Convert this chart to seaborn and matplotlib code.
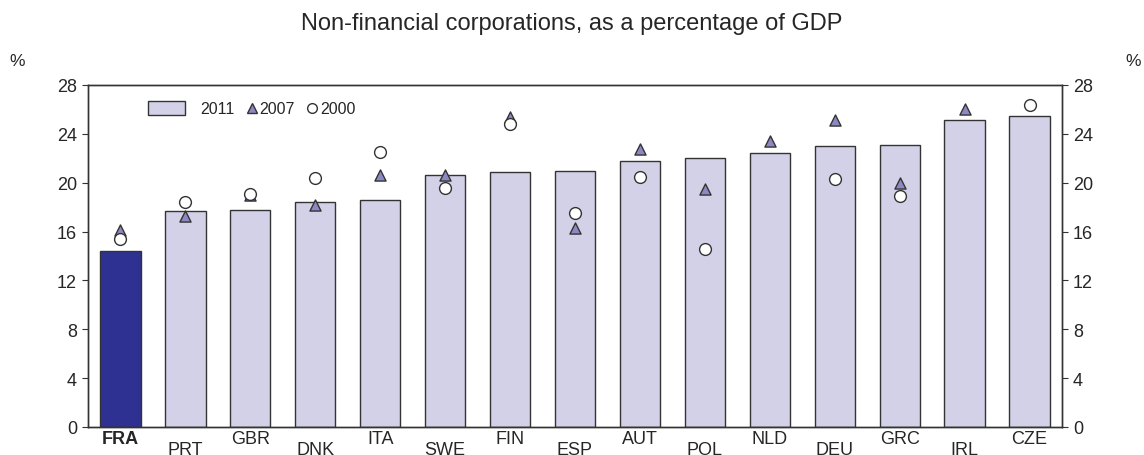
import matplotlib
matplotlib.use("Agg")
import matplotlib.pyplot as plt
import seaborn as sns
from matplotlib.patches import Patch, Rectangle
from matplotlib.lines import Line2D
from matplotlib.legend_handler import HandlerPatch

countries = ["FRA", "PRT", "GBR", "DNK", "ITA", "SWE", "FIN", "ESP",
             "AUT", "POL", "NLD", "DEU", "GRC", "IRL", "CZE"]
v2011 = [14.4, 17.7, 17.8, 18.4, 18.6, 20.6, 20.9, 21.0,
         21.8, 22.0, 22.4, 23.0, 23.1, 25.1, 25.5]
v2007 = [16.1, 17.3, 19.0, 18.2, 20.6, 20.6, 25.4, 16.3,
         22.8, 19.5, 23.4, 25.1, 20.0, 26.0, None]
v2000 = [15.4, 18.4, 19.1, 20.4, 22.5, 19.6, 24.8, 17.5,
         20.5, 14.6, None, 20.3, 18.9, None, 26.4]
yticks = [0, 4, 8, 12, 16, 20, 24, 28]

bar_col = "#D2D1E8"
fra_col = "#2E3192"
tri_col = "#8B88C2"
edge = "#333333"

sns.set_style("white")
plt.rcParams["font.family"] = ["Liberation Sans", "DejaVu Sans"]

fig = plt.figure(figsize=(11.44, 4.56), dpi=100)
ax = fig.add_axes([88 / 1144, 1 - 428 / 456, (1062 - 88) / 1144, (428 - 86) / 456])

palette = [fra_col if c == "FRA" else bar_col for c in countries]
sns.barplot(x=countries, y=v2011, hue=countries, palette=palette, legend=False,
            saturation=1, width=0.62, edgecolor=edge, linewidth=1.0, ax=ax, zorder=2)

x7 = [c for c, v in zip(countries, v2007) if v is not None]
y7 = [v for v in v2007 if v is not None]
x0 = [c for c, v in zip(countries, v2000) if v is not None]
y0 = [v for v in v2000 if v is not None]
sns.stripplot(x=x7, y=y7, order=countries, jitter=False, marker="^", size=8,
              color=tri_col, edgecolor=edge, linewidth=1.0, ax=ax, zorder=3)
sns.stripplot(x=x0, y=y0, order=countries, jitter=False, marker="o", size=8.5,
              color="white", edgecolor=edge, linewidth=1.0, ax=ax, zorder=4)

ax.set_xlim(-0.5, len(countries) - 0.5)
ax.set_ylim(0, 28)
ax.set_yticks(yticks)
ax.tick_params(axis="y", direction="out", length=4, width=0.8, color=edge,
               labelsize=13, pad=4, left=True)
ax.tick_params(axis="x", length=0, labelsize=13, pad=2)
for s in ax.spines.values():
    s.set_color(edge)
    s.set_linewidth(1.0)

ax.set_xticks(range(len(countries)))
ax.set_xticklabels(countries)
for i, lab in enumerate(ax.get_xticklabels()):
    if i % 2 == 1:
        lab.set_y(-0.032)
    if lab.get_text() == "FRA":
        lab.set_fontweight("bold")

ax2 = ax.twinx()
ax2.set_ylim(0, 28)
ax2.set_yticks(yticks)
ax2.tick_params(axis="y", direction="out", length=4, width=0.8, color=edge,
                labelsize=13, pad=4, right=True)
for s in ax2.spines.values():
    s.set_color(edge)
    s.set_linewidth(1.0)


def wide_box(legend, orig_handle, xdescent, ydescent, width, height, fontsize):
    # drawn in points: a 37 x 14 px box left of the handle slot
    return Rectangle((-xdescent - 28.8, -ydescent + height / 2 - 5), 26.6, 10)


handles = [
    Patch(facecolor=bar_col, edgecolor=edge, linewidth=1.0),
    Line2D([], [], ls="none", marker="^", ms=7.5, mfc=tri_col, mec=edge, mew=1.0),
    Line2D([], [], ls="none", marker="o", ms=7, mfc="white", mec=edge, mew=1.0),
]
ax.legend(handles, ["2011", "2007", "2000"], ncol=3, frameon=False,
          loc="center left", bbox_to_anchor=(188 / 1144, 1 - 110 / 456),
          bbox_transform=fig.transFigure, fontsize=11.5, borderpad=0,
          borderaxespad=0, handlelength=0.5, handletextpad=0.25,
          columnspacing=0.84,
          handler_map={Patch: HandlerPatch(patch_func=wide_box)})

fig.text(301 / 1144, 1 - 30 / 456, "Non-financial corporations, as a percentage of GDP",
         ha="left", va="baseline", fontsize=17)
fig.text(17 / 1144, 1 - 62 / 456, "%", ha="center", va="center", fontsize=12.5)
fig.text(1133 / 1144, 1 - 62 / 456, "%", ha="center", va="center", fontsize=12.5)

fig.savefig("out.png", dpi=100)
